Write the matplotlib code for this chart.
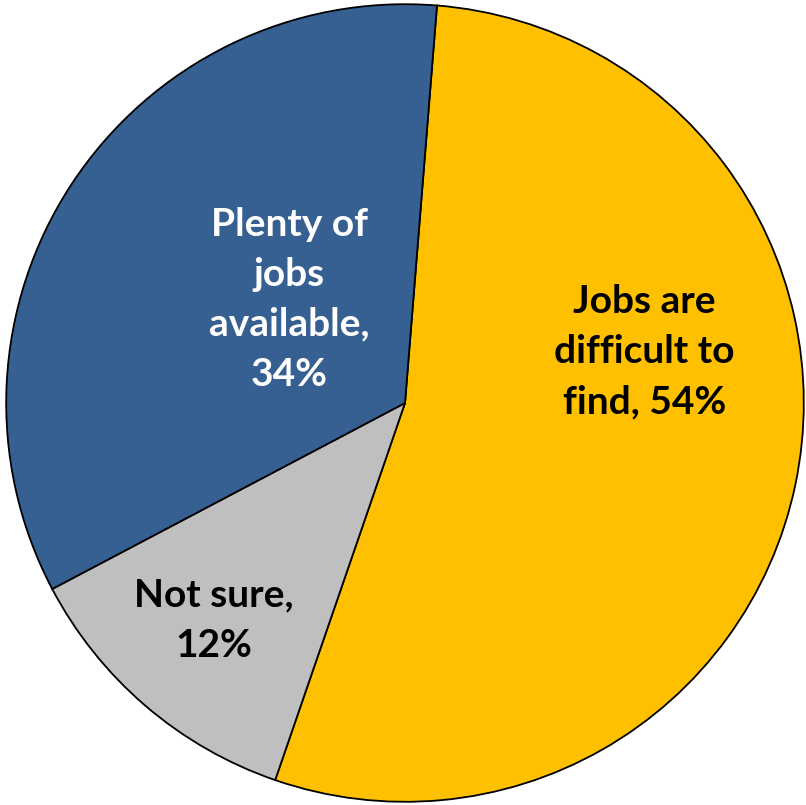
import matplotlib
matplotlib.use('Agg')
import matplotlib.pyplot as plt

# data
categories = ['Jobs are\ndifficult to\nfind, 54%', 'Not sure,\n12%', 'Plenty of\njobs\navailable,\n34%']
shares = [54, 12, 34]
colors = ['#FFC000', '#BFBFBF', '#376092']
text_colors = ['black', 'black', 'white']

# label centres (axes data coords, pie radius = 1)
label_pos = [(0.60, 0.128), (-0.48, -0.545), (-0.29, 0.26)]

fig = plt.figure(figsize=(8.06, 8.05), dpi=100)
ax = fig.add_axes([5 / 806, 2 / 805, 800 / 806, 800 / 805])

wedges, _ = ax.pie(shares, colors=colors, startangle=85.4, counterclock=False,
                   radius=1.0,
                   wedgeprops=dict(edgecolor='black', linewidth=1.3))
ax.set_xlim(-1.003, 1.003)
ax.set_ylim(-1.003, 1.003)
ax.set_aspect('equal')

for lab, (x, y), c in zip(categories, label_pos, text_colors):
    ax.text(x, y, lab, ha='center', va='center', color=c,
            fontsize=28, fontweight='bold', family=['Lato', 'DejaVu Sans'],
            linespacing=1.52)

ax.axis('off')
fig.savefig('out.png', dpi=100)
